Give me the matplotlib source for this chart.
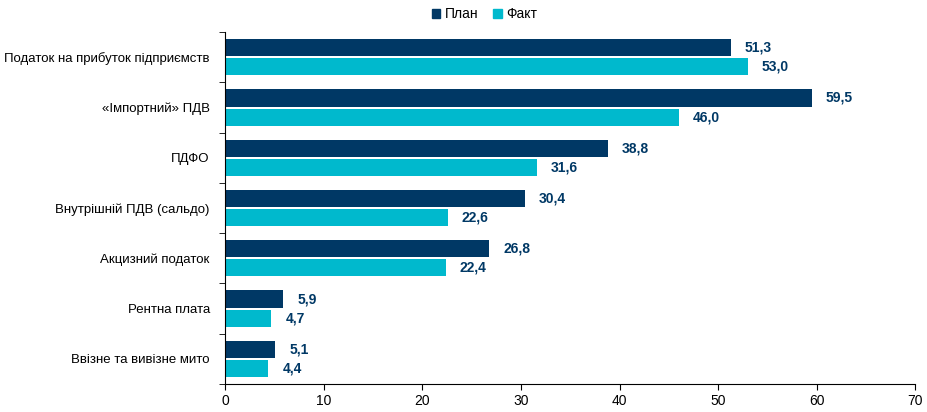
import numpy as np
import matplotlib.pyplot as plt
from matplotlib.patches import Patch

plt.rcParams['font.family'] = ['Liberation Sans', 'DejaVu Sans']

categories = ['Податок на прибуток підприємств', '«Імпортний» ПДВ', 'ПДФО',
              'Внутрішній ПДВ (сальдо)', 'Акцизний податок', 'Рентна плата',
              'Ввізне та вивізне мито']
plan = [51.3, 59.5, 38.8, 30.4, 26.8, 5.9, 5.1]
fact = [53.0, 46.0, 31.6, 22.6, 22.4, 4.7, 4.4]

navy = '#003865'
cyan = '#00B9CD'

fig = plt.figure(figsize=(9.28, 4.12), dpi=100)
ax = fig.add_axes([0.2425, 0.068, 0.744, 0.854])

y = np.arange(len(categories))
h = 0.34
ax.barh(y - h / 2 - 0.02, plan, height=h, color=navy, label='План')
ax.barh(y + h / 2 + 0.02, fact, height=h, color=cyan, label='Факт')

for i in range(len(categories)):
    ax.annotate(f'{plan[i]:.1f}'.replace('.', ','), (plan[i], y[i] - h / 2 - 0.02),
                xytext=(10, 0), textcoords='offset points', va='center',
                ha='left', fontsize=10, fontweight='bold', color=navy)
    ax.annotate(f'{fact[i]:.1f}'.replace('.', ','), (fact[i], y[i] + h / 2 + 0.02),
                xytext=(10, 0), textcoords='offset points', va='center',
                ha='left', fontsize=10, fontweight='bold', color=navy)

ax.set_ylim(len(categories) - 0.5, -0.5)
ax.set_xlim(0, 70)
ax.set_xticks(range(0, 71, 10))
ax.set_yticks(y)
ax.set_yticklabels(categories, fontsize=9.5)
ax.set_yticks(np.arange(-0.5, len(categories), 1), minor=True)
ax.tick_params(axis='y', which='major', length=0, pad=11)
ax.tick_params(axis='y', which='minor', length=4, direction='out')
ax.tick_params(axis='x', labelsize=10, length=4, direction='out')
for s in ['top', 'right']:
    ax.spines[s].set_visible(False)
ax.spines['left'].set_color('black')
ax.spines['bottom'].set_color('black')

handles = [Patch(color=navy, label='План'), Patch(color=cyan, label='Факт')]
fig.legend(handles=handles, loc='center', bbox_to_anchor=(0.522, 0.965), ncol=2,
           frameon=False, fontsize=10, handlelength=0.6, handleheight=0.6,
           handletextpad=0.3, columnspacing=1.1)

fig.savefig('out.png', dpi=100)
